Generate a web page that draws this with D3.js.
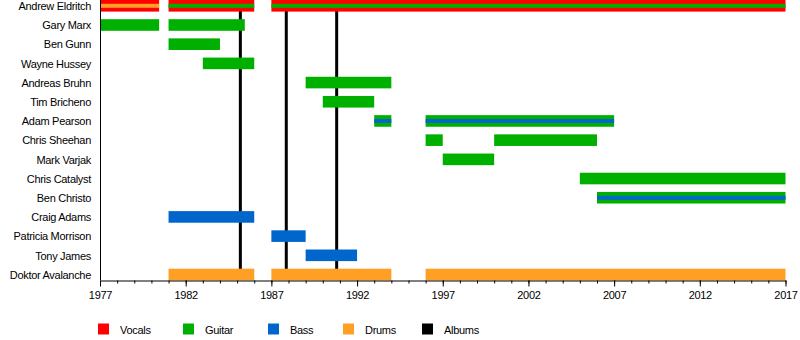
<!DOCTYPE html>
<html>
<head>
<meta charset="utf-8">
<script src="https://cdn.jsdelivr.net/npm/d3@7"></script>
<style>
  body { margin: 0; background: #fff; }
  text { font-family: "Liberation Sans", Arial, sans-serif; fill: #000; }
</style>
</head>
<body>
<svg></svg>
<script>
const members = ['Andrew Eldritch', 'Gary Marx', 'Ben Gunn', 'Wayne Hussey', 'Andreas Bruhn',
  'Tim Bricheno', 'Adam Pearson', 'Chris Sheehan', 'Mark Varjak', 'Chris Catalyst',
  'Ben Christo', 'Craig Adams', 'Patricia Morrison', 'Tony James', 'Doktor Avalanche'];

const roles = ['Vocals', 'Guitar', 'Bass', 'Drums', 'Albums'];
const roleColors = ['#ff0000', '#00b000', '#0066cc', '#ffa024', '#000000'];

// [member, main role, start, end, stripe role]
const periods = [
  ['Andrew Eldritch', 'Vocals', 1977, 1980.45, 'Drums'],
  ['Andrew Eldritch', 'Vocals', 1981, 1986, 'Guitar'],
  ['Andrew Eldritch', 'Vocals', 1987, 2017, 'Guitar'],
  ['Gary Marx', 'Guitar', 1977, 1980.45, null],
  ['Gary Marx', 'Guitar', 1981, 1985.45, null],
  ['Ben Gunn', 'Guitar', 1981, 1984, null],
  ['Wayne Hussey', 'Guitar', 1983, 1986, null],
  ['Andreas Bruhn', 'Guitar', 1989, 1994, null],
  ['Tim Bricheno', 'Guitar', 1990, 1993, null],
  ['Adam Pearson', 'Guitar', 1993, 1994, 'Bass'],
  ['Adam Pearson', 'Guitar', 1996, 2007, 'Bass'],
  ['Chris Sheehan', 'Guitar', 1996, 1997, null],
  ['Chris Sheehan', 'Guitar', 2000, 2006, null],
  ['Mark Varjak', 'Guitar', 1997, 2000, null],
  ['Chris Catalyst', 'Guitar', 2005, 2017, null],
  ['Ben Christo', 'Guitar', 2006, 2017, 'Bass'],
  ['Craig Adams', 'Bass', 1981, 1986, null],
  ['Patricia Morrison', 'Bass', 1987, 1989, null],
  ['Tony James', 'Bass', 1989, 1992, null],
  ['Doktor Avalanche', 'Drums', 1981, 1986, null],
  ['Doktor Avalanche', 'Drums', 1987, 1994, null],
  ['Doktor Avalanche', 'Drums', 1996, 2017, null]
];

const albumDates = [1985.19, 1987.87, 1990.81];
const majorYears = [1977, 1982, 1987, 1992, 1997, 2002, 2007, 2012, 2017];
const minorYears = d3.range(1977, 2018);

const width = 800;
const height = 340;
const left = 100;
const right = 785.5;
const axisY = 280;
const barH = 11.6;
const stripeH = 4;
const legendX = [98, 183, 268, 343, 422];

const svg = d3.select('svg').attr('width', width).attr('height', height);

const color = d3.scaleOrdinal().domain(roles).range(roleColors);

const x = d3.scaleLinear().domain([1977, 2017]).range([left, right]);
const y = d3.scalePoint().domain(members).range([5.8, 274.5]);

// album release lines (behind the bars)
svg.selectAll('line.album')
  .data(albumDates)
  .enter()
  .append('line')
  .attr('class', 'album')
  .attr('x1', d => x(d)).attr('x2', d => x(d))
  .attr('y1', 0).attr('y2', axisY)
  .attr('stroke', color('Albums'))
  .attr('stroke-width', 3);

svg.selectAll('rect.bar')
  .data(periods)
  .enter()
  .append('rect')
  .attr('class', 'bar')
  .attr('x', d => x(d[2]))
  .attr('width', d => x(d[3]) - x(d[2]))
  .attr('y', d => y(d[0]) - barH / 2)
  .attr('height', barH)
  .attr('fill', d => color(d[1]));

svg.selectAll('rect.stripe')
  .data(periods.filter(d => d[4]))
  .enter()
  .append('rect')
  .attr('class', 'stripe')
  .attr('x', d => x(d[2]))
  .attr('width', d => x(d[3]) - x(d[2]))
  .attr('y', d => y(d[0]) - stripeH / 2)
  .attr('height', stripeH)
  .attr('fill', d => color(d[4]));

// member names
svg.selectAll('text.name')
  .data(members)
  .enter()
  .append('text')
  .attr('class', 'name')
  .attr('x', 91)
  .attr('y', d => y(d) + 4.3)
  .attr('text-anchor', 'end')
  .style('font-size', '11px')
  .style('letter-spacing', '-0.3px')
  .text(d => d);

// left axis line
svg.append('line')
  .attr('x1', left + 0.5).attr('x2', left + 0.5)
  .attr('y1', 0).attr('y2', axisY)
  .attr('stroke', '#000');

// minor ticks
svg.append('g')
  .attr('transform', `translate(0,${axisY + 0.5})`)
  .call(d3.axisBottom(x).tickValues(minorYears).tickSize(3).tickSizeOuter(0).tickFormat(''))
  .call(g => g.select('.domain').remove());

// major ticks and labels
const xAxis = svg.append('g')
  .attr('transform', `translate(0,${axisY + 0.5})`)
  .call(d3.axisBottom(x).tickValues(majorYears).tickSize(6).tickSizeOuter(0)
    .tickPadding(5).tickFormat(d3.format('d')));
xAxis.selectAll('text')
  .style('font-size', '11px')
  .style('letter-spacing', '-0.3px')
  .style('font-family', '"Liberation Sans", Arial, sans-serif')
  .attr('fill', '#000');
xAxis.select('.domain').attr('stroke', '#000');
xAxis.selectAll('.tick line').attr('stroke', '#000');

// legend
const legend = svg.selectAll('g.legend')
  .data(roles)
  .enter()
  .append('g')
  .attr('class', 'legend')
  .attr('transform', (d, i) => `translate(${legendX[i]},323.5)`);

legend.append('rect')
  .attr('width', 11).attr('height', 11)
  .attr('fill', d => color(d));

legend.append('text')
  .attr('x', 22).attr('y', 10)
  .style('font-size', '11px')
  .style('letter-spacing', '-0.3px')
  .text(d => d);
</script>
</body>
</html>
